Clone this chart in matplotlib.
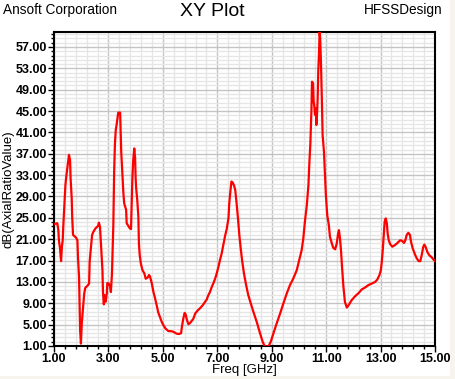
import matplotlib
matplotlib.use("Agg")
import numpy as np
import matplotlib.pyplot as plt
from matplotlib.patches import Rectangle

freq = [1.00, 1.12, 1.16, 1.18, 1.22, 1.26, 1.29, 1.32, 1.34, 1.38, 1.42, 1.45, 1.49, 1.53, 1.55,
        1.59, 1.61, 1.65, 1.67, 1.70, 1.81, 1.86, 1.88, 1.92, 1.94, 1.96, 1.99, 2.02, 2.04, 2.08,
        2.11, 2.15, 2.25, 2.29, 2.31, 2.36, 2.40, 2.44, 2.52, 2.62, 2.65, 2.69, 2.73, 2.78, 2.80,
        2.83, 2.86, 2.90, 2.94, 2.96, 3.01, 3.06, 3.09, 3.13, 3.16, 3.18, 3.21, 3.24, 3.27, 3.30,
        3.33, 3.36, 3.43, 3.45, 3.47, 3.51, 3.55, 3.58, 3.65, 3.67, 3.73, 3.79, 3.83, 3.86, 3.88,
        3.91, 3.95, 3.98, 4.00, 4.02, 4.06, 4.10, 4.12, 4.15, 4.19, 4.25, 4.32, 4.37, 4.44, 4.49,
        4.53, 4.59, 4.65, 4.71, 4.77, 4.83, 4.90, 4.96, 5.02, 5.10, 5.20, 5.33, 5.41, 5.51, 5.60,
        5.67, 5.70, 5.75, 5.80, 5.84, 5.88, 5.94, 6.00, 6.06, 6.12, 6.19, 6.27, 6.37, 6.46, 6.55,
        6.61, 6.67, 6.73, 6.80, 6.86, 6.92, 6.98, 7.04, 7.10, 7.16, 7.22, 7.28, 7.35, 7.41, 7.44,
        7.48, 7.52, 7.57, 7.62, 7.66, 7.71, 7.76, 7.81, 7.86, 7.91, 7.98, 8.06, 8.14, 8.23, 8.32,
        8.45, 8.57, 8.67, 8.75, 8.88, 8.96, 9.06, 9.18, 9.31, 9.43, 9.55, 9.67, 9.79, 9.92, 10.01,
        10.10, 10.16, 10.22, 10.29, 10.35, 10.38, 10.42, 10.46, 10.48, 10.52, 10.54, 10.56, 10.59,
        10.62, 10.64, 10.67, 10.69, 10.71, 10.74, 10.76, 10.78, 10.81, 10.84, 10.87, 10.92, 10.96,
        10.99, 11.04, 11.10, 11.14, 11.21, 11.26, 11.33, 11.39, 11.44, 11.47, 11.51, 11.55, 11.58,
        11.63, 11.69, 11.76, 11.82, 11.94, 12.06, 12.19, 12.31, 12.43, 12.55, 12.68, 12.80, 12.88,
        12.96, 13.01, 13.04, 13.08, 13.12, 13.15, 13.19, 13.23, 13.26, 13.30, 13.35, 13.43, 13.53,
        13.62, 13.72, 13.79, 13.86, 13.91, 13.96, 14.02, 14.08, 14.12, 14.18, 14.26, 14.33, 14.40,
        14.46, 14.51, 14.57, 14.61, 14.66, 14.72, 14.79, 14.88, 14.96, 15.00]

axial_ratio_db = [23.8, 24.0, 22.7, 20.8, 19.3, 16.9, 19.6, 20.8, 23.3, 27.4, 31.2, 32.7, 34.3, 35.8, 36.8,
                  35.8, 32.4, 28.7, 24.9, 21.8, 21.3, 20.8, 17.7, 13.9, 8.6, 3.9, 1.45, 5.2, 6.4, 8.6,
                  10.8, 11.9, 12.4, 12.7, 16.8, 19.6, 21.8, 22.3, 23.0, 23.5, 24.1, 23.3, 19.6, 15.2, 11.1,
                  8.8, 10.5, 9.3, 10.8, 12.8, 12.7, 12.1, 11.1, 14.6, 20.2, 23.6, 33.6, 39.0, 41.5, 42.4,
                  43.5, 44.7, 44.7, 41.2, 37.4, 33.3, 29.6, 27.7, 26.5, 24.0, 23.5, 23.0, 22.9, 28.3, 32.4,
                  35.8, 38.0, 36.2, 32.4, 30.5, 28.3, 25.2, 20.2, 18.0, 16.5, 15.2, 14.6, 13.6, 13.8, 14.3,
                  14.0, 12.8, 11.2, 10.0, 8.7, 7.3, 6.3, 5.5, 4.9, 4.26, 3.8, 3.76, 3.6, 3.3, 3.25,
                  3.4, 4.6, 6.1, 7.2, 6.9, 5.95, 5.07, 5.3, 5.7, 6.1, 7.1, 7.6, 8.1, 8.6, 9.25,
                  9.7, 10.5, 11.1, 12.1, 12.8, 13.6, 14.6, 15.8, 17.1, 18.3, 19.9, 21.45, 23.0, 24.9, 27.7,
                  29.9, 31.8, 31.6, 31.0, 30.2, 27.7, 24.9, 21.8, 19.3, 17.1, 14.6, 12.4, 10.5, 9.0, 7.5,
                  5.5, 3.4, 1.75, 0.9, 0.9, 1.75, 3.3, 5.2, 7.1, 9.0, 10.8, 12.4, 13.6, 15.2, 17.1,
                  18.95, 21.1, 24.3, 27.4, 31.2, 34.9, 38.9, 45.2, 50.5, 50.2, 46.8, 46.2, 44.3,
                  45.5, 42.4, 44.9, 47.7, 52.4, 56.2, 59.9, 58.7, 54.0, 47.7, 40.5, 37.4, 33.0,
                  29.3, 25.5, 23.6, 21.45, 20.2, 19.4, 19.1, 20.2, 22.1, 22.7, 21.1, 18.6, 16.1,
                  12.4, 9.25, 8.2, 8.6, 9.6, 10.3, 10.9, 11.6, 11.95, 12.4, 12.7, 13.0, 13.45,
                  14.3, 15.2, 16.5, 18.95, 22.1, 24.3, 24.9, 24.0, 22.1, 20.8, 20.1, 19.6, 19.9,
                  20.3, 20.8, 20.7, 20.3, 20.8, 21.8, 22.2, 21.8, 20.5, 19.3, 18.2, 17.4, 16.9,
                  16.9, 18.0, 19.6, 20.0, 19.5, 18.6, 18.0, 17.6, 17.1, 16.9]

x_ticks = [1, 3, 5, 7, 9, 11, 13, 15]
y_ticks = [1, 5, 9, 13, 17, 21, 25, 29, 33, 37, 41, 45, 49, 53, 57]
x_tick_labels = ["%.2f" % v for v in x_ticks]
y_tick_labels = ["%.2f" % v for v in y_ticks]

W, H = 456, 379
fig = plt.figure(figsize=(W / 100, H / 100), dpi=100)
fig.patch.set_facecolor("white")
fam = ["Liberation Sans", "DejaVu Sans"]

fig.patches.append(Rectangle((450 / W, 0), 1, 1, transform=fig.transFigure,
                             facecolor="#f6f4ec", edgecolor="none", zorder=-5))
fig.patches.append(Rectangle((0, 0), 1, 3 / H, transform=fig.transFigure,
                             facecolor="#f6f4ec", edgecolor="none", zorder=-5))

ax = fig.add_axes([54 / W, 1 - 346 / H, (435 - 54) / W, (346 - 31.5) / H])
ax.plot(freq, axial_ratio_db, color="#ff0000", lw=1.6, zorder=3, clip_on=True)

ax.set_xlim(1, 15)
ax.set_ylim(1, 59.9)
ax.set_xticks(x_ticks)
ax.set_xticklabels(x_tick_labels, fontsize=9, fontweight="bold", family=fam)
ax.set_yticks(y_ticks)
ax.set_yticklabels(y_tick_labels, fontsize=9, fontweight="bold", family=fam)
ax.set_xticks(np.arange(1, 15.01, 0.4), minor=True)
ax.set_yticks(np.arange(1, 59.9, 0.8), minor=True)

ax.grid(which="major", color="#c4c4c4", lw=1.0, zorder=1)
ax.grid(which="minor", color="#e6e6e6", lw=1.0, zorder=0)
ax.set_axisbelow(True)

for s in ax.spines.values():
    s.set_linewidth(1.5)
    s.set_color("black")

ax.tick_params(which="major", direction="out", length=4, width=1, color="black", pad=1)
ax.tick_params(which="minor", direction="out", length=2.5, width=1, color="black")

ax.set_xlabel("Freq [GHz]", fontsize=9.5, family=fam, labelpad=-1)
ax.set_ylabel("dB(AxialRatioValue)", fontsize=9.5, family=fam, labelpad=1)

fig.text(3 / W, 1 - 10 / H, "Ansoft Corporation", fontsize=9.8, family=fam,
         ha="left", va="center")
fig.text(212 / W, 1 - 11 / H, "XY Plot", fontsize=14, family=fam,
         ha="center", va="center")
fig.text(443 / W, 1 - 10 / H, "HFSSDesign", fontsize=9.8, family=fam,
         ha="right", va="center")

fig.savefig("out.png", dpi=100, facecolor=fig.get_facecolor())
